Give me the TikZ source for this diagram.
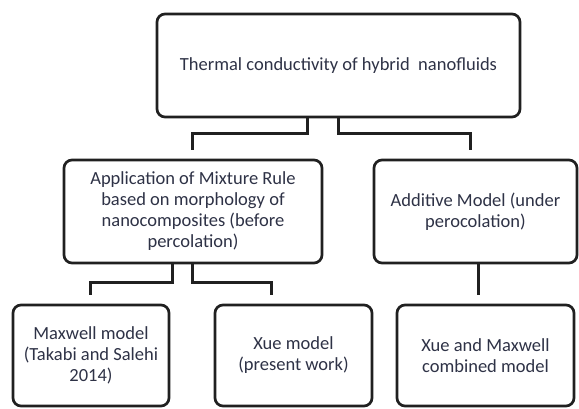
\documentclass[tikz,border=0pt]{standalone}
\usepackage{fontspec}
\setmainfont{Carlito}
\usetikzlibrary{calc}
\definecolor{textc}{HTML}{2E3246}
\definecolor{linec}{HTML}{202020}
\begin{document}
\begin{tikzpicture}[x=1pt,y=-1pt,
  box/.style={draw=linec, line width=2.7pt, rounded corners=8pt, inner sep=0pt, outer sep=0pt,
    align=center, text=textc, font=\fontsize{18.5}{21}\selectfont},
  conn/.style={draw=linec, line width=3pt}]
\useasboundingbox (0,0) rectangle (579,408);
\fill[white] (0,0) rectangle (579,408);
\node[box, minimum width=363pt, minimum height=103pt] (top) at (338.5,65.5) {Thermal conductivity of hybrid~ nanofluids};
\node[box, minimum width=258pt, minimum height=103pt] (ml) at (193,211.5) {Application of Mixture Rule\\based on morphology of\\nanocomposites (before\\percolation)};
\node[box, minimum width=203pt, minimum height=103pt] (mr) at (475.5,211.5) {Additive Model (under\\perocolation)};
\node[box, minimum width=156pt, minimum height=101pt] (bl) at (91,355.5) {Maxwell model\\(Takabi and Salehi\\2014)};
\node[box, minimum width=157pt, minimum height=101pt] (bm) at (293.5,355.5) {Xue model\\(present work)};
\node[box, minimum width=177pt, minimum height=101pt] (br) at (485.5,355.5) {Xue and Maxwell\\combined model};
\coordinate (e1) at (192,150);
\coordinate (e2) at (470,150);
\coordinate (e3) at (90,295);
\coordinate (e4) at (271,295);
\coordinate (e5) at (478,295);
\draw[conn] ([xshift=-31.5pt]top.south) -- ++(0,16) -| (e1);
\draw[conn] ([xshift=-0.5pt]top.south) -- ++(0,16) -| (e2);
\draw[conn] ([xshift=-21pt]ml.south) -- ++(0,19) -| (e3);
\draw[conn] ([xshift=-1pt]ml.south) -- ++(0,19) -| (e4);
\draw[conn] (mr.south -| e5) -- (e5);
\end{tikzpicture}
\end{document}
